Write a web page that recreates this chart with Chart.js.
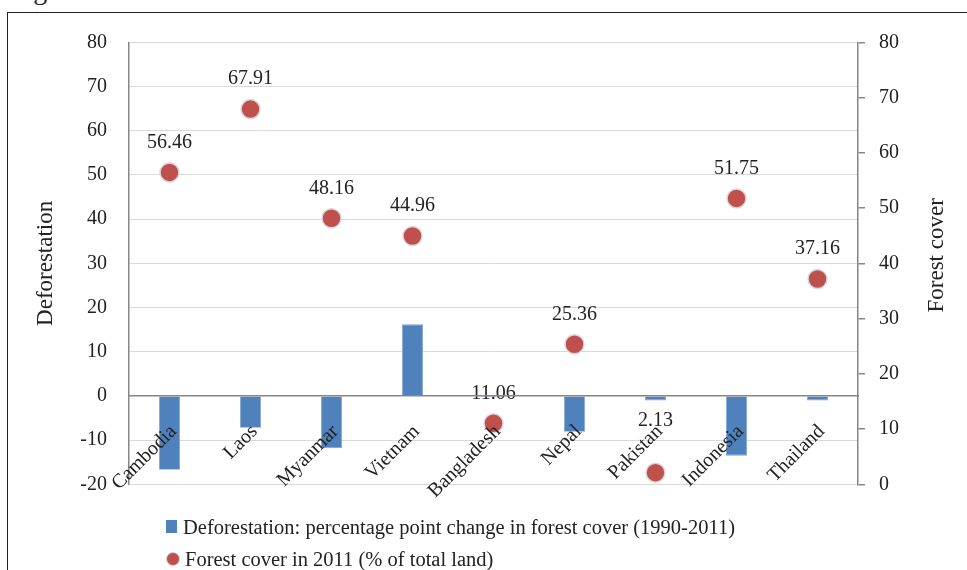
<!DOCTYPE html>
<html>
<head>
<meta charset="utf-8">
<script src="https://cdn.jsdelivr.net/npm/chart.js@4/dist/chart.umd.min.js"></script>
<style>
  html, body { margin: 0; padding: 0; background: #fff; overflow: hidden; }
  #wrap { position: relative; width: 967px; height: 570px; }
  #frame { position: absolute; left: 7px; top: 12px; width: 1000px; height: 600px; border-left: 1.5px solid #222; border-top: 1.5px solid #222; }
  #fig { position: absolute; left: 10px; top: -24px; font: 28px "Liberation Serif", serif; line-height: 1; color: #222; white-space: nowrap; }
  canvas { position: absolute; left: 0; top: 0; }
  .leg { position: absolute; font: 20.5px "Liberation Serif", serif; color: #222; white-space: nowrap; line-height: 1; }
  .sq { position: absolute; width: 11px; height: 13px; background: #4F81BD; }
  .dot { position: absolute; width: 12px; height: 12px; border-radius: 50%; background: #C0504D; border: 1px solid #d6d6d6; }
</style>
</head>
<body>
<div id="wrap">
  <div id="fig">Figure</div>
  <div id="frame"></div>
  <canvas id="c" width="967" height="570"></canvas>
  <div class="sq" style="left:166px; top:520px;"></div>
  <div class="leg" id="leg1" style="left:183px; top:517px;"></div>
  <div class="dot" style="left:166px; top:552px;"></div>
  <div class="leg" id="leg2" style="left:185px; top:549px;"></div>
</div>
<script>
const categories = ["Cambodia", "Laos", "Myanmar", "Vietnam", "Bangladesh", "Nepal", "Pakistan", "Indonesia", "Thailand"];
const deforestation = [-16.7, -7.2, -11.8, 16.2, -0.3, -8.1, -1.0, -13.5, -1.0];
const forestCover = [56.46, 67.91, 48.16, 44.96, 11.06, 25.36, 2.13, 51.75, 37.16];
const leftTicks = { min: -20, max: 80, step: 10 };
const rightTicks = { min: 0, max: 80, step: 10 };
const seriesNames = ["Deforestation: percentage point change in forest cover (1990-2011)", "Forest cover in 2011 (% of total land)"];
const axisTitles = ["Deforestation", "Forest cover"];

document.getElementById('leg1').textContent = seriesNames[0];
document.getElementById('leg2').textContent = seriesNames[1];

const FONT = "'Liberation Serif', 'Times New Roman', serif";
const TXT = '#222';
const AXIS = '#868686';

const CA = { left: 129, right: 858, top: 42.3, bottom: 484.4 };

// value-label placement: default lift above the marker, with one label moved higher (as in the source)
const LABEL_LIFT = 30;
const LABEL_LIFT_OVERRIDE = { "Pakistan": 52 };

const labelPlugin = {
  id: 'valueLabels',
  afterDatasetsDraw(chart) {
    const ctx = chart.ctx;
    const meta = chart.getDatasetMeta(1);
    ctx.save();
    ctx.font = "20px " + FONT;
    ctx.fillStyle = TXT;
    ctx.textAlign = 'center';
    ctx.textBaseline = 'middle';
    meta.data.forEach((pt, i) => {
      const lift = LABEL_LIFT_OVERRIDE[categories[i]] || LABEL_LIFT;
      ctx.fillText(forestCover[i].toFixed(2), pt.x, pt.y - lift);
    });
    ctx.restore();
  }
};

const rightTitlePlugin = {
  id: 'rightTitle',
  afterDraw(chart) {
    const ctx = chart.ctx;
    const s = chart.scales.y1;
    ctx.save();
    ctx.font = "23px " + FONT;
    ctx.fillStyle = TXT;
    ctx.textAlign = 'center';
    ctx.textBaseline = 'middle';
    ctx.translate(937, (s.top + s.bottom) / 2 - 8);
    ctx.rotate(-Math.PI / 2);
    ctx.fillText(axisTitles[1], 0, 0);
    ctx.restore();
  }
};

new Chart(document.getElementById('c'), {
  type: 'bar',
  data: {
    labels: categories,
    datasets: [
      {
        type: 'bar',
        label: seriesNames[0],
        data: deforestation,
        yAxisID: 'y',
        backgroundColor: '#4F81BD',
        borderColor: '#7fa3d4',
        borderWidth: 0.8,
        categoryPercentage: 1,
        barPercentage: 0.26,
        order: 2
      },
      {
        type: 'line',
        label: seriesNames[1],
        data: forestCover,
        yAxisID: 'y1',
        showLine: false,
        pointRadius: 9.5,
        pointHoverRadius: 9.5,
        pointBackgroundColor: '#C0504D',
        pointBorderColor: '#d9d9d9',
        pointBorderWidth: 1.5,
        order: 1
      }
    ]
  },
  options: {
    responsive: false,
    animation: false,
    devicePixelRatio: 1,
    layout: { padding: { left: 0, right: 0, top: CA.top, bottom: 570 - CA.bottom } },
    plugins: {
      legend: { display: false },
      tooltip: { enabled: false },
      title: { display: false }
    },
    scales: {
      x: {
        position: { y: 0 },
        offset: true,
        z: 1,
        grid: { display: false },
        border: { display: true, color: AXIS, width: 1.5, z: 1 },
        ticks: {
          z: 2,
          autoSkip: false,
          minRotation: 45,
          maxRotation: 45,
          padding: 16,
          labelOffset: 4,
          color: TXT,
          font: { family: FONT, size: 20 }
        }
      },
      y: {
        position: 'left',
        min: leftTicks.min,
        max: leftTicks.max,
        afterFit(scale) { scale.width = CA.left; },
        ticks: {
          stepSize: leftTicks.step,
          padding: 22,
          color: TXT,
          font: { family: FONT, size: 20 }
        },
        grid: { color: '#d9d9d9', lineWidth: 1, drawTicks: false },
        border: { display: true, color: AXIS, width: 1.5 },
        title: {
          display: true,
          text: axisTitles[0],
          color: TXT,
          font: { family: FONT, size: 23 },
          padding: { top: 32, bottom: 0 }
        }
      },
      y1: {
        position: 'right',
        min: rightTicks.min,
        max: rightTicks.max,
        afterFit(scale) { scale.width = 967 - CA.right; },
        ticks: {
          stepSize: rightTicks.step,
          padding: 14,
          color: TXT,
          font: { family: FONT, size: 20 }
        },
        grid: { drawOnChartArea: false, drawTicks: true, tickLength: 7, color: AXIS, lineWidth: 1.5 },
        border: { display: true, color: AXIS, width: 1.5 }
      }
    }
  },
  plugins: [labelPlugin, rightTitlePlugin]
});
</script>
</body>
</html>
